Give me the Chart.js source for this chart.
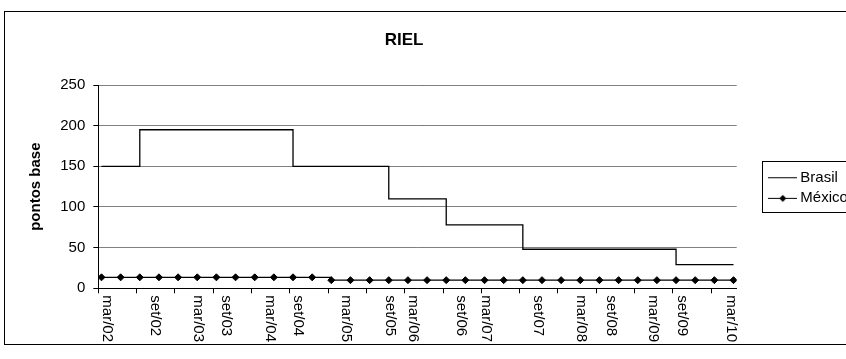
<!DOCTYPE html>
<html>
<head>
<meta charset="utf-8">
<script src="https://cdn.jsdelivr.net/npm/chart.js@4.4.1/dist/chart.umd.min.js"></script>
<style>
html,body{margin:0;padding:0;overflow:hidden;background:#fff;width:846px;height:359px;}
canvas{position:absolute;left:0;top:0;}
</style>
</head>
<body>
<canvas id="c" width="900" height="359"></canvas>
<script>
// ---- data (quarterly observations, x in months from the first one) ----
const seriesNames = ['Brasil', 'México'];
const brasil = [150,150,195,195,195,195,195,195,195,195,150,150,150,150,150,110,110,110,78,78,78,78,48,48,48,48,48,48,48,48,29,29,29,29];
const mexico = [13.5,13.5,13.5,13.5,13.5,13.5,13.5,13.5,13.5,13.5,13.5,13.5,10,10,10,10,10,10,10,10,10,10,10,10,10,10,10,10,10,10,10,10,10,10];
const pointMonth = brasil.map((_, i) => i * 3);
const xTickLabels = ['mar/02','set/02','mar/03','set/03','mar/04','set/04','mar/05','set/05','mar/06','set/06','mar/07','set/07','mar/08','set/08','mar/09','set/09','mar/10'];
const xTickLabelPos = [0.9, 8.4, 15.1, 19.6, 26.4, 30.8, 38.4, 45.2, 48.8, 56.4, 60.3, 68.4, 75.2, 79.9, 86.4, 90.9, 98.7];
const xTickMarks = [-0.5, 5.5, 11.5, 17.5, 23.5, 29.5, 35.5, 41.5, 47.5, 53.5, 59.5, 65.5, 71.5, 77.5, 83.5, 89.5, 95.5];
const yMin = 0, yMax = 250, yStep = 50;
const chartTitle = 'RIEL';
const yTitle = 'pontos base';

const FONT = "'Liberation Sans', Arial, sans-serif";
Chart.defaults.font.family = FONT;
Chart.defaults.color = '#000';

function legendImage(withMarker) {
  const c = document.createElement('canvas');
  c.width = 29; c.height = 9;
  const g = c.getContext('2d');
  g.strokeStyle = '#000'; g.lineWidth = 1;
  g.beginPath(); g.moveTo(0, 4.5); g.lineTo(29, 4.5); g.stroke();
  if (withMarker) {
    g.fillStyle = '#000';
    g.beginPath(); g.moveTo(14.5, 1); g.lineTo(18, 4.5); g.lineTo(14.5, 8); g.lineTo(11, 4.5); g.closePath(); g.fill();
  }
  return c;
}
const legendImgs = [legendImage(false), legendImage(true)];
const LEG_PAD = 5.6;

const framePlugin = {
  id: 'frame',
  beforeDraw(chart) {
    const ctx = chart.ctx;
    ctx.save();
    ctx.fillStyle = '#fff';
    ctx.fillRect(0, 0, chart.width, chart.height);
    ctx.strokeStyle = '#000'; ctx.lineWidth = 1;
    ctx.strokeRect(4.5, 11.5, 1000, 333);
    ctx.restore();
  },
  afterLayout(chart) {
    const lg = chart.legend;
    lg.left += 30.5; lg.top += 1.4; lg.bottom += 1.4;
    lg.right = chart.width; lg.width = lg.right - lg.left;
  },
  afterDraw(chart) {
    const ctx = chart.ctx;
    const xs = chart.scales.x;
    ctx.save();
    ctx.fillStyle = '#000';
    ctx.font = '15px ' + FONT;
    ctx.textAlign = 'left';
    ctx.textBaseline = 'middle';
    xTickLabels.forEach((lab, i) => {
      const px = xs.getPixelForValue(xTickLabelPos[i]);
      ctx.save();
      ctx.translate(px, xs.bottom + 2);
      ctx.rotate(Math.PI / 2);
      ctx.fillText(lab, 0, 0);
      ctx.restore();
    });
    // legend frame
    const lg = chart.legend;
    const x = lg.left + LEG_PAD;
    const y0 = (lg.top + LEG_PAD + lg.bottom - 2 * (15 + LEG_PAD)) / 2;
    const top = Math.round(y0 - 9.2) + 0.5;
    const bottom = Math.round(y0 + 2 * 15 + LEG_PAD + 5.9) + 0.5;
    const left = Math.round(x - 10.5) + 0.5;
    ctx.strokeStyle = '#000'; ctx.lineWidth = 1;
    ctx.strokeRect(left, top, 300, bottom - top);
    ctx.restore();
  }
};

new Chart(document.getElementById('c'), {
  type: 'line',
  data: {
    datasets: [
      {
        label: seriesNames[0],
        data: brasil.map((v, i) => ({x: pointMonth[i], y: v})),
        borderColor: '#000', borderWidth: 1.3,
        pointRadius: 0, stepped: true, fill: false
      },
      {
        label: seriesNames[1],
        data: mexico.map((v, i) => ({x: pointMonth[i], y: v})),
        borderColor: '#000', borderWidth: 1.3,
        pointStyle: 'rectRot', pointRadius: 3.5,
        pointBackgroundColor: '#000', pointBorderColor: '#000', pointBorderWidth: 1,
        stepped: true, fill: false
      }
    ]
  },
  options: {
    responsive: false,
    animation: false,
    devicePixelRatio: 1,
    layout: { padding: { left: 0, top: 0, right: 92, bottom: 65.7 } },
    plugins: {
      tooltip: { enabled: false },
      title: {
        display: true, text: chartTitle, color: '#000',
        font: { family: FONT, size: 17, weight: 'bold' },
        padding: { top: 29.8, bottom: 34.8 }
      },
      legend: {
        position: 'right', fullSize: false, maxWidth: 71.3,
        labels: {
          usePointStyle: true, pointStyleWidth: 20, padding: LEG_PAD,
          color: '#000', font: { family: FONT, size: 15 },
          generateLabels: (chart) => chart.data.datasets.map((ds, i) => ({
            text: ds.label, pointStyle: legendImgs[i], fillStyle: '#000', strokeStyle: '#000',
            lineWidth: 1, hidden: false, datasetIndex: i, fontColor: '#000'
          }))
        }
      }
    },
    scales: {
      x: {
        type: 'linear', min: -0.5, max: 99.5,
        afterBuildTicks: (s) => { s.ticks = xTickMarks.map(v => ({value: v})); },
        ticks: { display: false },
        grid: { display: true, drawOnChartArea: false, drawTicks: true, tickLength: 5, color: '#000', tickColor: '#000' },
        border: { display: true, color: '#000', width: 1 }
      },
      y: {
        min: yMin, max: yMax,
        ticks: { stepSize: yStep, color: '#000', font: { family: FONT, size: 15 }, padding: 8 },
        grid: { color: '#808080', tickColor: '#000', tickLength: 5, drawTicks: true },
        border: { display: true, color: '#000', width: 1 },
        title: {
          display: true, text: yTitle, color: '#000',
          font: { family: FONT, size: 15, weight: 'bold' },
          padding: { top: 27, bottom: 0 }
        },
        afterFit: (s) => { s.width = 98.3; }
      }
    }
  },
  plugins: [framePlugin]
});
</script>
</body>
</html>
